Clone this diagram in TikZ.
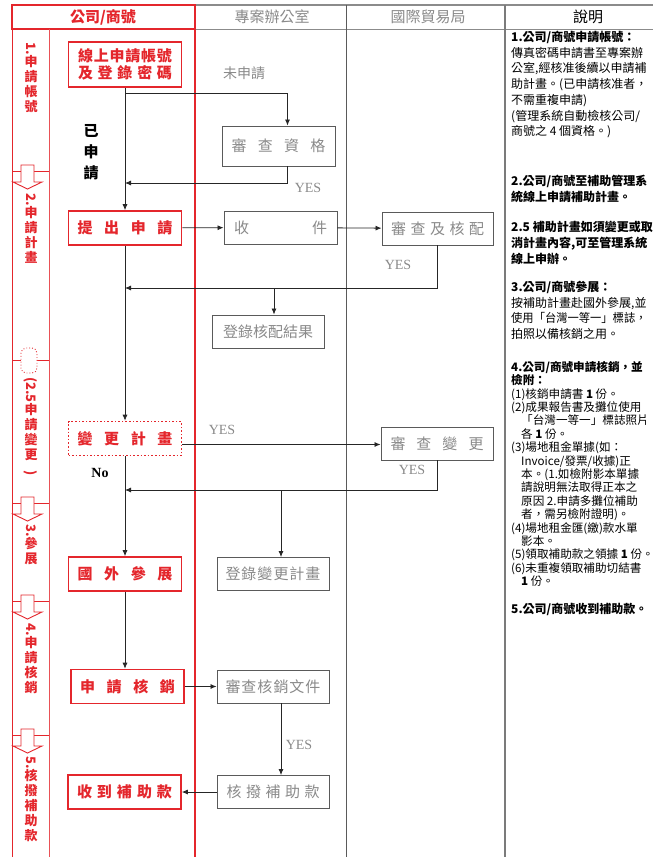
\documentclass[tikz,border=0pt]{standalone}
\usepackage{fontspec}
\setmainfont{Liberation Serif}
\newfontfamily\cjk{Noto Sans CJK TC}
\usetikzlibrary{arrows.meta,positioning}
\definecolor{flowred}{HTML}{E4262C}
\definecolor{officegray}{HTML}{8A8A8A}
\definecolor{framegray}{HTML}{5A5A5A}
\newcommand{\spaced}[2]{\makebox[#1][s]{#2}}
\newcommand{\rotnum}[1]{\rotatebox{-90}{#1}}

\begin{document}
\begin{tikzpicture}[x=1pt, y=-1pt,
    firm/.style={draw=flowred, line width=1.6pt, text=flowred, minimum width=113pt, minimum height=34pt, inner sep=0pt, align=center, font=\cjk\bfseries\fontsize{15}{17}\selectfont},
    office/.style={draw=framegray, line width=0.9pt, text=officegray, minimum width=112pt, minimum height=33pt, inner sep=0pt, font=\cjk\fontsize{15}{17}\selectfont},
    flow/.style={draw=black!85, line width=0.8pt, -{Latex[length=6pt,width=5pt]}},
    yes/.style={text=officegray, inner sep=0pt, font=\fontsize{14}{16}\selectfont},
    stage/.style={text=flowred, anchor=north, inner sep=0pt, align=center, font=\cjk\bfseries\fontsize{13}{15}\selectfont},
    note/.style={anchor=north west, inner sep=0pt, align=left, font=\cjk\fontsize{12}{15.7}\selectfont},
    head/.style={inner sep=0pt, font=\cjk\fontsize{15}{17}\selectfont}]

    \useasboundingbox (0,0) rectangle (653,857);
    \clip (0,0) rectangle (653,857);
    \fill[white] (0,0) rectangle (653,857);

    % table
    \draw[framegray!70, line width=1.5pt] (195,5) -- (653,5);
    \draw[framegray!70, line width=1pt] (195,29) -- (653,29);
    \draw[framegray, line width=0.9pt] (346,5) -- (346,857);
    \draw[framegray!80, line width=1.6pt] (505,5) -- (505,857);
    \draw[flowred, line width=1.6pt] (12,5) rectangle (195,29);
    \draw[flowred, line width=1.6pt] (195,29) -- (195,857);
    \draw[flowred, line width=1pt] (12,29) -- (12,857);
    \draw[flowred!80, line width=1pt] (49,29) -- (49,857);

    \node[head, text=flowred] (hfirm) at (103,17) {\bfseries 公司/商號};
    \node[head, text=officegray] (hoffice) at (272,17) {專案辦公室};
    \node[head, text=officegray] (htrade) at (428,17) {國際貿易局};
    \node[head] (hnote) at (588,17) {說明};

    % stages
    \foreach \y in {171,503,601,735} {
        \draw[flowred, line width=0.8pt] (12,\y) -- (49,\y);
        \draw[flowred, line width=0.9pt, fill=white] (21,\y-6) -- (34,\y-6) -- (34,\y+11) -- (42,\y+11) -- (27.5,\y+18) -- (13,\y+11) -- (21,\y+11) -- cycle;
    }
    \draw[flowred, line width=0.8pt] (12,360) -- (49,360);
    \draw[flowred, dotted, line width=0.9pt, fill=white, rounded corners=5pt] (21,348) rectangle (37,373);

    \node[stage] (s1) at (31,42) {\rotnum{1.}\\申\\請\\帳\\號};
    \node[stage] (s2) at (31,193) {\rotnum{2.}\\申\\請\\計\\畫};
    \node[stage] (s25) at (31,377) {\rotnum{(2.5}\\申\\請\\變\\更\\[-4pt]\rotnum{)}};
    \node[stage] (s3) at (31,524) {\rotnum{3.}\\參\\展};
    \node[stage] (s4) at (31,623) {\rotnum{4.}\\申\\請\\核\\銷};
    \node[stage] (s5) at (31,756) {\rotnum{5.}\\核\\撥\\補\\助\\款};

    % flow
    \node[firm, minimum height=45pt] (acct) at (125,64.5) {\spaced{94pt}{線\hfill 上\hfill 申\hfill 請\hfill 帳\hfill 號}\\\spaced{94pt}{及\hfill 登\hfill 錄\hfill 密\hfill 碼}};
    \node[text=officegray, font=\cjk\fontsize{14}{16}\selectfont] (notyet) at (244,73) {未申請};
    \node[align=center, font=\cjk\bfseries\fontsize{15}{21}\selectfont] (already) at (91,152) {已\\申\\請};
    \node[office, minimum width=113pt, minimum height=40pt] (check) at (278.5,146) {\spaced{94pt}{審\hfill 查\hfill 資\hfill 格}};
    \node[yes] (yes1) at (308,188) {YES};

    \node[firm] (submit) at (125,228) {\spaced{95pt}{提\hfill 出\hfill 申\hfill 請}};
    \node[office, minimum width=113pt] (recv) at (280.5,227.5) {\spaced{93pt}{收\hfill 件}};
    \node[office, minimum width=111pt] (alloc) at (437.5,228.5) {\spaced{93pt}{審\hfill 查\hfill 及\hfill 核\hfill 配}};
    \node[yes] (yes2) at (398,265) {YES};
    \node[office] (result) at (268,331.5) {\spaced{90pt}{登\hfill 錄\hfill 核\hfill 配\hfill 結\hfill 果}};

    \node[firm, dotted] (change) at (125,438.5) {\spaced{95pt}{變\hfill 更\hfill 計\hfill 畫}};
    \node[office] (review) at (437,443.5) {\spaced{93pt}{審\hfill 查\hfill 變\hfill 更}};
    \node[yes] (yes3) at (222,430) {YES};
    \node[yes] (yes4) at (412,470) {YES};
    \node[inner sep=0pt, font=\bfseries\fontsize{14}{16}\selectfont] (nolabel) at (100,473) {No};
    \node[office] (changed) at (273,574) {\spaced{95pt}{登\hfill 錄\hfill 變\hfill 更\hfill 計\hfill 畫}};
    \node[firm] (expo) at (125,574) {\spaced{95pt}{國\hfill 外\hfill 參\hfill 展}};

    \node[firm] (claim) at (127.5,686.5) {\spaced{95pt}{申\hfill 請\hfill 核\hfill 銷}};
    \node[office] (docs) at (273,686.5) {\spaced{95pt}{審\hfill 查\hfill 核\hfill 銷\hfill 文\hfill 件}};
    \node[yes] (yes5) at (299,745) {YES};
    \node[office] (grant) at (273,792) {\spaced{93pt}{核\hfill 撥\hfill 補\hfill 助\hfill 款}};
    \node[firm] (receive) at (124.5,792) {\spaced{95pt}{收\hfill 到\hfill 補\hfill 助\hfill 款}};

    \coordinate (splitA) at (125,93.5);
    \coordinate (mergeA) at (125,183);
    \coordinate (mergeB) at (125,288);
    \coordinate (mergeC) at (125,490);

    \draw[flow] (acct) -- (submit);
    \draw[flow] (splitA) -| ([xshift=9pt]check.north);
    \draw[flow] ([xshift=9pt]check.south) |- (mergeA);
    \draw[flow] (submit) -- (recv);
    \draw[flow] (recv) -- (alloc);
    \draw[flow] (alloc.south) |- (mergeB);
    \draw[flow] ([xshift=6pt]result.north |- mergeB) -- ([xshift=6pt]result.north);
    \draw[flow] (submit) -- (change);
    \draw[flow] ([yshift=-6pt]change.east) -- ([yshift=-6pt]change.east -| review.west);
    \draw[flow] (review.south) |- (mergeC);
    \draw[flow] ([xshift=8pt]changed.north |- mergeC) -- ([xshift=8pt]changed.north);
    \draw[flow] (change) -- (expo);
    \draw[flow] (expo.south) -- (expo.south |- claim.north);
    \draw[flow] (claim) -- (docs);
    \draw[flow] ([xshift=8pt]docs.south) -- ([xshift=8pt]grant.north);
    \draw[flow] (grant) -- (receive);

    % notes
    \node[note] (n1) at (511,31) {\textbf{1.公司/商號申請帳號：}\\傳真密碼申請書至專案辦\\公室,經核准後續以申請補\\助計畫。(已申請核准者，\\不需重複申請)\\(管理系統自動檢核公司/\\商號之 4 個資格。)};
    \node[note] (n2) at (511,175) {\textbf{2.公司/商號至補助管理系}\\\textbf{統線上申請補助計畫。}};
    \node[note] (n25) at (511,221) {\textbf{2.5 補助計畫如須變更或取}\\\textbf{消計畫內容,可至管理系統}\\\textbf{線上申辦。}};
    \node[note] (n3) at (511,281) {\textbf{3.公司/商號參展：}\\按補助計畫赴國外參展,並\\\scalebox{0.94}[1]{使用「台灣一等一」標誌，}\\拍照以備核銷之用。};
    \node[note, font=\cjk\fontsize{11.6}{13.4}\selectfont] (n4) at (511,361) {\textbf{4.公司/商號申請核銷，並}\\\textbf{檢附：}\\(1)核銷申請書 \textbf{1} 份。\\(2)成果報告書及攤位使用\\\hspace*{10pt}「台灣一等一」標誌照片\\\hspace*{10pt}各 \textbf{1} 份。\\(3)場地租金單據(如：\\\hspace*{10pt}Invoice/發票/收據)正\\\hspace*{10pt}本。(1.如檢附影本單據\\\hspace*{10pt}請說明無法取得正本之\\\hspace*{10pt}原因 2.申請多攤位補助\\\hspace*{10pt}者，需另檢附證明)。\\(4)場地租金匯(繳)款水單\\\hspace*{10pt}影本。\\(5)領取補助款之領據 \textbf{1} 份。\\(6)未重複領取補助切結書\\\hspace*{10pt}\textbf{1} 份。};
    \node[note] (n5) at (511,603) {\textbf{5.公司/商號收到補助款。}};
\end{tikzpicture}
\end{document}
